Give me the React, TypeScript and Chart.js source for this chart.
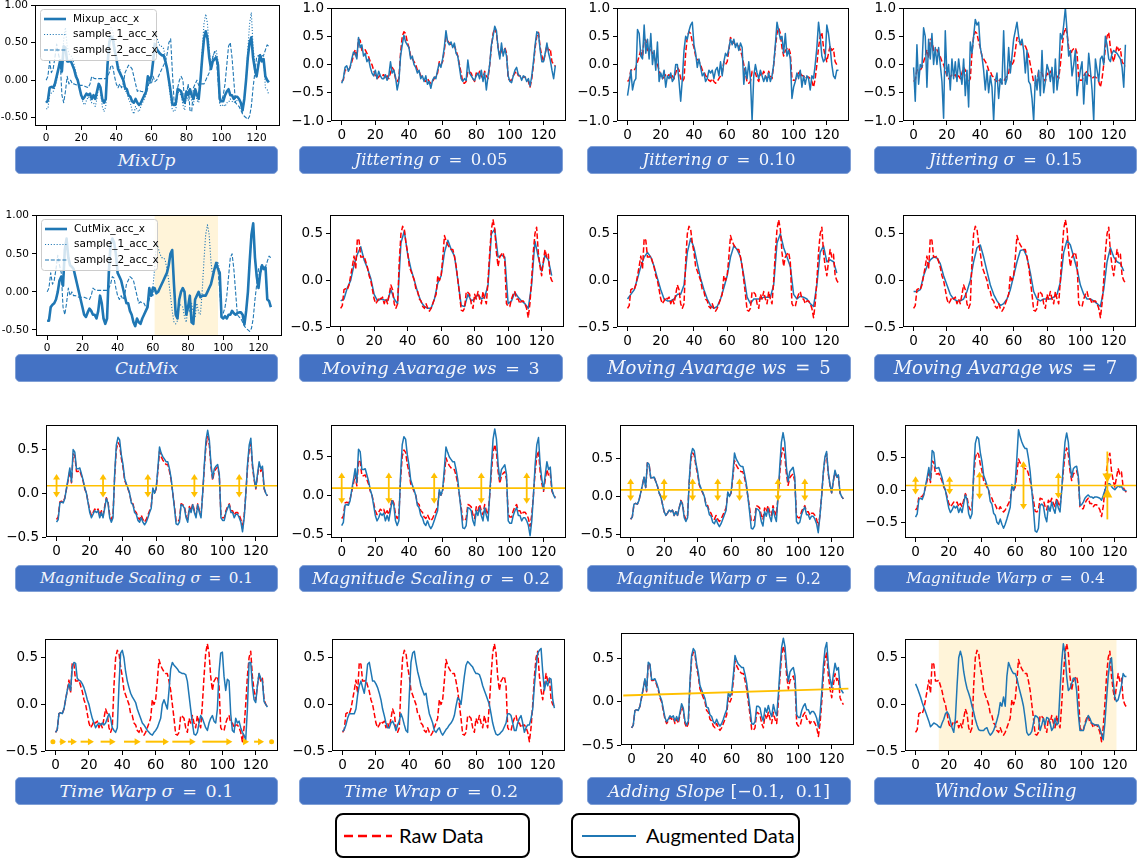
import React, { useEffect, useRef } from "react";
import { Chart, registerables } from "chart.js";
Chart.register(...registerables);

// ---------------- DATA ----------------
const RAW = [
  -0.30,-0.27,-0.10,-0.09,-0.10,-0.05,0.05,0.15,0.26,0.12,
  0.45,0.43,0.25,0.25,0.26,0.20,0.14,0.05,0.00,-0.10,
  -0.20,-0.25,-0.22,-0.18,-0.20,-0.18,-0.25,-0.20,-0.25,-0.15,
  -0.05,-0.10,-0.25,-0.30,-0.25,0.20,0.50,0.58,0.55,0.40,
  0.30,0.15,0.10,0.05,0.00,-0.10,-0.12,-0.20,-0.22,-0.28,
  -0.30,-0.25,-0.30,-0.33,-0.30,-0.25,-0.20,-0.15,0.05,0.00,
  0.05,0.25,0.48,0.42,0.38,0.35,0.33,0.33,0.25,0.15,
  0.00,-0.15,-0.32,-0.33,-0.30,-0.12,-0.13,-0.15,-0.25,-0.30,
  -0.15,-0.20,-0.12,-0.20,-0.25,-0.12,-0.20,-0.25,0.00,0.30,
  0.55,0.65,0.55,0.30,0.15,0.25,0.28,0.30,0.20,-0.25,
  -0.28,-0.28,-0.20,-0.15,-0.12,-0.20,-0.20,-0.25,-0.22,-0.22,
  -0.25,-0.30,-0.40,-0.25,0.00,0.30,0.50,0.57,0.30,0.15,
  0.05,0.20,0.33,0.25,0.28,0.05,0.00,-0.03];

const SAMPLE1 = [
  -0.38,-0.38,-0.20,-0.17,-0.15,-0.10,0.00,0.15,0.20,0.08,
  0.55,0.70,0.45,0.35,0.33,0.30,0.20,0.10,0.00,-0.10,
  -0.20,-0.30,-0.33,-0.27,-0.22,-0.25,-0.30,-0.30,-0.35,-0.25,
  -0.05,-0.15,-0.35,-0.42,-0.35,0.25,0.62,0.70,0.65,0.50,
  0.25,0.20,0.15,0.05,-0.05,-0.15,-0.15,-0.25,-0.30,-0.40,
  -0.45,-0.35,-0.40,-0.42,-0.35,-0.30,-0.25,-0.20,0.05,-0.05,
  0.05,0.30,0.65,0.58,0.50,0.45,0.45,0.42,0.30,0.15,
  -0.05,-0.25,-0.40,-0.42,-0.38,-0.15,-0.18,-0.20,-0.33,-0.40,
  -0.20,-0.27,-0.15,-0.27,-0.33,-0.15,-0.27,-0.30,0.00,0.40,
  0.75,0.88,0.75,0.40,0.20,0.32,0.37,0.40,0.25,-0.33,
  -0.35,-0.32,-0.35,-0.30,-0.30,-0.25,-0.28,-0.30,-0.28,-0.27,
  -0.27,-0.30,-0.43,-0.25,0.00,0.40,0.75,0.90,0.45,0.20,
  0.05,0.25,0.35,0.30,0.32,-0.10,-0.12,-0.20];

const SAMPLE2 = [
  0.00,0.05,0.25,0.10,0.15,0.30,0.48,0.35,0.25,-0.20,
  -0.30,-0.15,0.05,-0.05,0.00,-0.05,-0.05,-0.06,-0.07,-0.07,
  -0.07,-0.07,-0.08,-0.09,-0.10,-0.05,0.05,0.03,0.02,0.02,
  0.02,0.02,0.02,0.02,0.02,0.05,0.10,0.20,0.18,0.05,
  -0.05,-0.10,-0.05,-0.10,-0.05,0.10,0.15,0.20,0.18,0.15,
  0.05,-0.05,-0.15,-0.13,-0.15,-0.15,-0.20,-0.18,-0.10,0.00,
  -0.05,0.05,-0.02,0.00,0.05,0.10,0.15,0.20,0.25,0.35,
  0.50,0.55,0.10,-0.30,-0.35,-0.10,0.00,0.05,0.00,-0.30,
  -0.20,-0.05,-0.40,-0.42,-0.10,-0.05,0.00,-0.07,-0.05,-0.05,
  -0.05,0.00,0.05,0.10,0.20,0.30,0.38,0.30,0.00,-0.30,
  -0.28,-0.20,-0.05,0.20,0.45,0.50,0.30,0.00,-0.30,-0.33,
  -0.35,-0.40,-0.45,-0.48,-0.50,-0.52,-0.48,-0.35,-0.10,0.10,
  0.30,0.33,0.30,0.32,0.33,0.40,0.47,0.45];

const CUT_WINDOW = [61, 97];

const JIT05 = [
  -0.33,-0.25,-0.05,-0.02,-0.12,-0.05,0.10,0.22,0.20,0.10,
  0.48,0.30,0.35,0.15,0.20,0.05,0.10,-0.05,-0.15,-0.20,
  -0.10,-0.25,-0.12,-0.20,-0.25,-0.25,-0.18,-0.28,-0.20,0.05,
  -0.15,-0.10,-0.22,-0.45,-0.30,0.15,0.35,0.52,0.40,0.35,
  0.30,0.10,0.15,0.00,-0.05,-0.15,-0.10,-0.25,-0.20,-0.30,
  -0.20,-0.35,-0.30,-0.42,-0.28,-0.22,-0.25,-0.10,0.02,-0.05,
  0.10,0.30,0.60,0.40,0.35,0.40,0.30,0.38,0.20,0.15,
  -0.05,-0.25,-0.30,-0.25,-0.28,0.08,-0.15,-0.20,-0.25,-0.28,
  -0.20,-0.15,-0.25,-0.10,-0.30,-0.15,-0.45,-0.20,0.00,0.35,
  0.50,0.68,0.60,0.28,0.10,0.38,0.15,0.28,0.15,-0.20,
  -0.30,-0.32,-0.20,-0.10,-0.05,-0.18,-0.20,-0.28,-0.20,-0.22,
  -0.30,-0.25,-0.38,-0.20,0.05,0.35,0.58,0.55,0.25,0.05,
  0.05,0.20,0.38,0.20,0.08,-0.10,-0.25,-0.02];

const JIT10 = [
  -0.55,-0.35,-0.10,-0.45,-0.30,-0.25,0.62,0.55,0.15,0.10,
  0.70,0.20,0.45,0.10,0.55,0.00,0.25,-0.10,0.40,-0.30,
  -0.15,-0.25,-0.10,-0.40,-0.20,-0.25,-0.15,-0.30,-0.25,0.00,
  0.00,-0.30,-0.65,-0.25,0.25,0.50,0.45,0.60,0.70,0.75,
  0.35,0.20,-0.05,0.10,-0.05,-0.20,-0.15,-0.30,-0.25,-0.10,
  -0.15,-0.10,-0.25,-0.10,-0.05,-0.20,0.05,-0.20,0.05,0.20,
  0.15,0.28,0.45,0.35,0.45,0.30,0.38,0.25,0.38,0.30,
  -0.35,-0.05,-0.25,0.05,-0.25,-1.00,-0.20,0.00,-0.15,-0.25,
  -0.10,-0.20,-0.30,-0.20,-0.30,-0.15,-0.30,-0.20,0.00,0.35,
  0.75,0.60,0.45,0.50,0.20,0.55,0.15,0.25,0.10,-0.60,
  -0.40,-0.30,-0.15,-0.25,-0.10,-0.40,-0.20,-0.35,-0.20,-0.25,
  -0.45,-0.20,-0.25,0.00,0.30,0.75,0.50,0.15,0.05,0.10,
  0.70,0.55,0.30,0.00,-0.20,-0.25,-0.10,-0.10];

const JIT15 = [
  -0.05,-0.65,0.35,-0.35,0.00,-0.05,0.65,0.50,-0.40,0.45,
  0.10,0.55,0.00,0.30,0.00,0.30,0.00,-0.30,-0.95,0.60,
  -0.20,0.00,-0.45,0.10,-0.25,0.05,-0.30,0.10,-0.15,-0.35,
  0.10,-0.55,-0.10,-0.75,0.40,0.20,0.50,0.80,0.70,0.75,
  0.30,0.15,-0.10,-0.45,-0.10,-0.50,-0.20,-0.40,-1.00,-0.30,
  -0.15,-0.60,-0.25,-0.35,0.60,-0.35,-0.25,0.30,-0.15,0.15,
  0.45,0.60,0.75,0.50,0.35,0.45,0.25,-0.15,0.25,-0.30,
  -0.35,-0.60,-1.00,-0.20,-0.45,-0.10,-0.55,0.25,-0.50,-0.30,
  0.00,-0.10,-0.30,-0.05,-0.50,0.10,-0.45,-0.20,0.55,0.45,
  0.70,1.00,0.60,0.15,0.25,-0.20,0.00,0.25,-0.55,-0.30,
  -0.10,0.05,-0.70,-0.15,-0.35,0.20,-0.10,-0.45,-1.00,0.10,
  -0.10,-0.30,0.10,0.15,0.00,0.50,0.35,0.10,0.05,0.20,
  0.25,0.22,0.20,0.15,0.10,-0.05,-0.40,0.35];

// moving averages sampled every 2 steps
const MA3 = [
  -0.22,-0.20,-0.08,0.00,0.17,0.28,0.36,0.22,0.13,0.02,
  -0.15,-0.22,-0.20,-0.21,-0.22,-0.10,-0.20,-0.25,0.40,0.53,
  0.28,0.12,0.00,-0.13,-0.23,-0.28,-0.30,-0.30,-0.20,-0.03,
  0.05,0.30,0.43,0.33,0.26,0.00,-0.27,-0.28,-0.15,-0.22,
  -0.20,-0.15,-0.20,-0.18,-0.05,0.50,0.55,0.25,0.27,0.25,
  -0.25,-0.22,-0.13,-0.18,-0.22,-0.25,-0.30,-0.05,0.42,0.25,
  0.10,0.27,0.22,0.05];
const MA5 = [
  -0.20,-0.15,-0.10,0.02,0.15,0.25,0.30,0.25,0.15,0.02,
  -0.10,-0.20,-0.22,-0.22,-0.20,-0.15,-0.15,-0.05,0.30,0.45,
  0.35,0.18,0.02,-0.10,-0.20,-0.27,-0.30,-0.28,-0.20,-0.08,
  0.05,0.25,0.37,0.33,0.25,0.05,-0.18,-0.25,-0.20,-0.20,
  -0.20,-0.18,-0.18,-0.18,-0.05,0.40,0.50,0.35,0.25,0.15,
  -0.15,-0.20,-0.17,-0.18,-0.20,-0.25,-0.28,-0.05,0.30,0.37,
  0.20,0.22,0.20,0.08];
const MA7 = [
  -0.12,-0.12,-0.10,0.05,0.15,0.22,0.25,0.24,0.18,0.05,
  -0.05,-0.15,-0.20,-0.22,-0.22,-0.20,-0.12,0.00,0.20,0.35,
  0.38,0.25,0.10,-0.05,-0.15,-0.22,-0.27,-0.25,-0.20,-0.10,
  0.05,0.20,0.32,0.33,0.25,0.08,-0.12,-0.20,-0.22,-0.20,
  -0.20,-0.20,-0.18,-0.15,-0.02,0.30,0.43,0.38,0.25,0.12,
  -0.05,-0.15,-0.20,-0.20,-0.22,-0.25,-0.28,-0.10,0.20,0.35,
  0.25,0.20,0.18,0.10];

const MS01 = [
  -0.33,-0.30,-0.11,-0.10,-0.11,-0.06,0.06,0.17,0.29,0.13,
  0.50,0.47,0.28,0.28,0.29,0.22,0.15,0.06,0.00,-0.11,
  -0.22,-0.28,-0.24,-0.20,-0.22,-0.20,-0.28,-0.22,-0.28,-0.17,
  -0.06,-0.11,-0.28,-0.33,-0.28,0.22,0.55,0.64,0.61,0.44,
  0.33,0.17,0.11,0.06,0.00,-0.11,-0.13,-0.22,-0.24,-0.31,
  -0.33,-0.28,-0.33,-0.36,-0.33,-0.28,-0.22,-0.17,0.06,0.00,
  0.06,0.28,0.53,0.46,0.42,0.39,0.36,0.36,0.28,0.17,
  0.00,-0.17,-0.35,-0.36,-0.33,-0.13,-0.14,-0.17,-0.28,-0.33,
  -0.17,-0.22,-0.13,-0.22,-0.28,-0.13,-0.22,-0.28,0.00,0.33,
  0.61,0.72,0.61,0.33,0.17,0.28,0.31,0.33,0.22,-0.28,
  -0.31,-0.31,-0.22,-0.17,-0.13,-0.22,-0.22,-0.28,-0.24,-0.24,
  -0.28,-0.33,-0.44,-0.28,0.00,0.33,0.55,0.63,0.33,0.17,
  0.06,0.22,0.36,0.28,0.31,0.06,0.00,-0.03];

const MS02 = [
  -0.39,-0.35,-0.13,-0.12,-0.13,-0.07,0.07,0.20,0.34,0.16,
  0.59,0.56,0.33,0.33,0.34,0.26,0.18,0.07,0.00,-0.13,
  -0.26,-0.33,-0.29,-0.23,-0.26,-0.23,-0.33,-0.26,-0.33,-0.20,
  -0.07,-0.13,-0.33,-0.39,-0.33,0.26,0.65,0.75,0.72,0.52,
  0.39,0.20,0.13,0.07,0.00,-0.13,-0.16,-0.26,-0.29,-0.36,
  -0.39,-0.33,-0.39,-0.43,-0.39,-0.33,-0.26,-0.20,0.07,0.00,
  0.07,0.33,0.62,0.55,0.49,0.46,0.43,0.43,0.33,0.20,
  0.00,-0.20,-0.42,-0.43,-0.39,-0.16,-0.17,-0.20,-0.33,-0.39,
  -0.20,-0.26,-0.16,-0.26,-0.33,-0.16,-0.26,-0.33,0.00,0.39,
  0.72,0.85,0.72,0.39,0.20,0.33,0.36,0.39,0.26,-0.33,
  -0.36,-0.36,-0.26,-0.20,-0.16,-0.26,-0.26,-0.33,-0.29,-0.29,
  -0.33,-0.39,-0.52,-0.33,0.00,0.39,0.65,0.74,0.39,0.20,
  0.07,0.26,0.43,0.33,0.36,0.07,0.00,-0.04];

const MW02 = [
  -0.30,-0.27,-0.10,-0.09,-0.10,-0.05,0.05,0.15,0.26,0.12,
  0.45,0.43,0.25,0.25,0.26,0.20,0.14,0.05,0.00,-0.10,
  -0.20,-0.25,-0.22,-0.18,-0.20,-0.18,-0.25,-0.20,-0.25,-0.15,
  -0.06,-0.11,-0.28,-0.33,-0.28,0.22,0.55,0.64,0.61,0.44,
  0.33,0.17,0.11,0.06,0.00,-0.12,-0.14,-0.24,-0.26,-0.34,
  -0.36,-0.30,-0.36,-0.40,-0.36,-0.30,-0.24,-0.18,0.06,0.00,
  0.06,0.30,0.58,0.50,0.46,0.42,0.40,0.40,0.30,0.18,
  0.00,-0.20,-0.42,-0.43,-0.39,-0.16,-0.17,-0.20,-0.33,-0.39,
  -0.20,-0.26,-0.16,-0.26,-0.33,-0.16,-0.26,-0.33,0.00,0.39,
  0.72,0.85,0.72,0.39,0.20,0.33,0.36,0.39,0.26,-0.33,
  -0.36,-0.34,-0.24,-0.18,-0.14,-0.24,-0.24,-0.30,-0.26,-0.26,
  -0.30,-0.36,-0.48,-0.26,0.00,0.32,0.53,0.60,0.32,0.16,
  0.05,0.21,0.35,0.26,0.29,0.05,0.00,-0.03];

const MW04 = [
  -0.41,-0.36,-0.14,-0.12,-0.14,-0.07,0.07,0.20,0.35,0.16,
  0.61,0.58,0.34,0.34,0.35,0.27,0.19,0.07,0.00,-0.14,
  -0.27,-0.34,-0.30,-0.24,-0.27,-0.24,-0.34,-0.27,-0.34,-0.20,
  -0.07,-0.14,-0.36,-0.43,-0.36,0.29,0.72,0.82,0.79,0.58,
  0.44,0.23,0.16,0.08,0.00,-0.17,-0.21,-0.35,-0.38,-0.49,
  -0.52,-0.44,-0.52,-0.58,-0.52,-0.44,-0.35,-0.26,0.09,0.00,
  0.10,0.49,0.93,0.82,0.74,0.68,0.64,0.64,0.49,0.29,
  0.00,-0.29,-0.62,-0.64,-0.58,-0.23,-0.21,-0.24,-0.40,-0.48,
  -0.24,-0.32,-0.18,-0.28,-0.35,-0.16,-0.27,-0.33,0.00,0.40,
  0.74,0.88,0.74,0.40,0.20,0.33,0.36,0.37,0.22,-0.23,
  -0.22,-0.18,-0.12,-0.09,-0.07,-0.10,-0.10,-0.12,-0.10,-0.10,
  -0.11,-0.12,-0.15,-0.08,0.00,0.07,0.10,0.10,0.06,0.03,
  0.01,0.04,0.07,0.05,0.06,0.01,0.00,-0.01];

const TW01 = [
  -0.30,-0.27,-0.10,-0.09,-0.10,-0.05,0.05,0.15,0.22,0.15,
  0.40,0.45,0.44,0.28,0.26,0.25,0.22,0.18,0.12,0.05,
  0.00,-0.08,-0.15,-0.20,-0.25,-0.22,-0.20,-0.22,-0.20,-0.22,
  -0.20,-0.15,-0.10,-0.15,-0.25,-0.28,-0.30,-0.25,0.20,0.55,
  0.58,0.50,0.35,0.25,0.18,0.12,0.08,0.05,0.02,-0.05,
  -0.10,-0.15,-0.20,-0.22,-0.25,-0.28,-0.30,-0.32,-0.33,-0.30,
  -0.28,-0.25,-0.20,-0.15,0.00,0.05,0.00,-0.05,0.15,0.38,
  0.45,0.42,0.40,0.38,0.35,0.34,0.33,0.33,0.32,0.25,
  0.10,-0.05,-0.20,-0.32,-0.33,-0.30,-0.20,-0.12,-0.15,-0.20,
  -0.25,-0.28,-0.20,-0.15,-0.12,-0.18,-0.20,-0.05,0.35,0.55,
  0.56,0.30,0.15,0.27,0.25,-0.10,-0.28,-0.30,-0.15,-0.20,
  -0.18,-0.25,-0.30,-0.33,-0.38,-0.05,0.45,0.45,0.20,0.05,
  0.02,0.20,0.33,0.28,0.25,0.03,0.00,-0.03];

const TW02 = [
  -0.29,-0.27,-0.22,-0.15,-0.10,-0.10,-0.10,-0.10,-0.05,0.10,
  0.20,0.25,0.18,0.12,0.25,0.43,0.45,0.35,0.25,0.25,
  0.22,0.18,0.12,0.05,-0.05,-0.12,-0.20,-0.25,-0.25,-0.20,
  -0.18,-0.22,-0.28,-0.22,-0.18,-0.10,-0.15,-0.22,-0.28,-0.30,
  0.10,0.45,0.55,0.57,0.45,0.35,0.28,0.20,0.15,0.10,
  0.12,0.00,-0.10,-0.15,-0.20,-0.28,-0.30,-0.27,-0.25,-0.30,
  -0.33,-0.30,-0.27,-0.25,-0.22,-0.20,-0.17,-0.12,-0.02,0.07,
  0.05,0.00,0.15,0.30,0.42,0.46,0.44,0.42,0.40,0.36,
  0.33,0.33,0.32,0.27,0.20,0.15,0.10,0.05,0.00,-0.10,
  -0.20,-0.27,-0.32,-0.33,-0.32,-0.30,-0.28,-0.24,-0.20,-0.10,
  -0.10,-0.12,-0.20,-0.28,-0.28,-0.20,-0.15,-0.12,-0.20,-0.30,
  -0.25,-0.22,-0.22,-0.15,-0.05,0.20,0.40,0.55,0.58,0.60,
  0.35,0.15,0.25,0.20,0.28,0.27,0.05,-0.04];

const SLOPE_AUG = [
  -0.30,-0.27,-0.10,-0.09,-0.10,-0.05,0.06,0.16,0.27,0.13,
  0.46,0.44,0.26,0.26,0.27,0.22,0.16,0.07,0.02,-0.08,
  -0.18,-0.23,-0.20,-0.16,-0.18,-0.16,-0.22,-0.17,-0.22,-0.12,
  -0.02,-0.07,-0.22,-0.27,-0.22,0.24,0.54,0.62,0.59,0.44,
  0.34,0.19,0.14,0.09,0.04,-0.06,-0.07,-0.15,-0.17,-0.23,
  -0.25,-0.20,-0.25,-0.28,-0.25,-0.20,-0.14,-0.09,0.11,0.06,
  0.11,0.31,0.54,0.48,0.44,0.42,0.40,0.40,0.32,0.22,
  0.07,-0.08,-0.25,-0.26,-0.23,-0.05,-0.05,-0.07,-0.17,-0.22,
  -0.07,-0.12,-0.04,-0.12,-0.17,-0.03,-0.11,-0.16,0.09,0.39,
  0.64,0.74,0.64,0.39,0.24,0.35,0.38,0.40,0.30,-0.15,
  -0.18,-0.18,-0.10,-0.05,-0.02,-0.09,-0.09,-0.14,-0.11,-0.11,
  -0.14,-0.19,-0.29,-0.14,0.11,0.42,0.62,0.69,0.42,0.27,
  0.17,0.32,0.45,0.37,0.40,0.17,0.13,0.10];
const SLOPE_LINE_X = [-5, 130];
const SLOPE_LINE_Y = [0.075, 0.155];

const WINDOW_AUG = [
  0.22,0.18,0.13,0.08,0.02,-0.03,-0.08,-0.13,-0.18,-0.24,
  -0.22,-0.20,-0.21,-0.22,-0.24,-0.25,-0.20,-0.16,-0.10,-0.08,
  -0.11,-0.18,-0.25,-0.30,-0.15,0.20,0.50,0.57,0.50,0.35,
  0.25,0.17,0.12,0.06,-0.02,-0.08,-0.16,-0.22,-0.27,-0.28,
  -0.28,-0.28,-0.26,-0.25,-0.30,-0.33,-0.31,-0.28,-0.23,-0.17,
  -0.10,0.02,-0.02,0.08,-0.02,0.30,0.45,0.40,0.36,0.33,
  0.33,0.28,0.20,0.13,0.06,-0.02,-0.15,-0.30,-0.33,-0.32,
  -0.29,-0.20,-0.12,-0.13,-0.15,-0.28,-0.22,-0.15,-0.22,-0.14,
  -0.15,-0.20,-0.28,-0.25,-0.15,-0.22,-0.20,0.15,0.45,0.65,
  0.55,0.30,0.15,0.17,0.22,0.28,0.28,0.15,-0.10,-0.28,
  -0.28,-0.28,-0.22,-0.17,-0.12,-0.15,-0.20,-0.21,-0.22,-0.22,
  -0.22,-0.26,-0.32,-0.38,-0.20,0.05,0.30,0.45,0.50,0.25,
  0.08,0.03,0.05,0.12,0.20,0.33,0.30,0.30];
const WIN_WINDOW = [14, 121];

const X_TICKS = [0, 20, 40, 60, 80, 100, 120];
const Y_TICKS_MIX = [-0.5, 0, 0.5, 1];
const Y_TICKS_JIT = [-1, -0.5, 0, 0.5, 1];
const Y_TICKS_STD = [-0.5, 0, 0.5];

const MS01_ARROWS_X = [0, 28, 55, 83, 110];
const MS02_ARROWS_X = [0, 28, 55, 83, 110];
const MW02_ARROWS_X = [0, 20, 37, 52, 65, 88, 104];
const MW04_ARROWS_X = [0, 20.5, 38.5, 65, 86, 115.5];
const MW04_ARROWS_H = [0.14, 0.14, 0.21, 0.37, 0.2, 0.52];
const TW_ARROWS = [[2.4, 6.4], [7.4, 12.8], [15, 23], [27, 36], [41, 51], [54, 68], [70, 84], [88, 106], [113, 116], [119, 125]];
const TW_DOTS = [-1.6, 129.5];
const TW_ARROW_Y = -0.4;

// ---------------- STYLE ----------------
const BLUE = "#1f77b4";
const RED = "#ff0000";
const ORANGE = "#ffc000";
const SHADE = "#fff4d9";
const X_MIN = -6.35, X_MAX = 133.35;

type S = { d: number[]; step?: number; xs?: number[]; c: string; w: number; dash?: number[] };
type Arrow = { x: number; h: number; inward?: boolean };
type P = {
  box: [number, number, number, number];
  y: [number, number];
  yt: number[];
  small?: boolean;
  series: S[];
  shade?: number[];
  hline?: number;
  arrows?: Arrow[];
  tw?: boolean;
  legend?: string[];
};

const blue = (d: number[], step = 1): S => ({ d, step, c: BLUE, w: 1.5 });
const red: S = { d: RAW, c: RED, w: 1.5, dash: [5.5, 2.4] };
const CUTMIX = [...SAMPLE1.slice(0, CUT_WINDOW[0]), ...SAMPLE2.slice(CUT_WINDOW[0], CUT_WINDOW[1] + 1), ...SAMPLE1.slice(CUT_WINDOW[1] + 1)];
const mixSeries = (main: number[]): S[] => [
  { d: main, c: BLUE, w: 2.6 },
  { d: SAMPLE1, c: BLUE, w: 1.1, dash: [1.1, 1.8] },
  { d: SAMPLE2, c: BLUE, w: 1.1, dash: [4, 1.8] },
];

const PANELS: P[] = [
  { box: [35, 5, 280, 126], y: [-0.61, 1.0], yt: Y_TICKS_MIX, small: true, series: mixSeries(RAW), legend: ["Mixup_acc_x", "sample_1_acc_x", "sample_2_acc_x"] },
  { box: [331, 7, 566, 121], y: [-1, 1], yt: Y_TICKS_JIT, series: [blue(JIT05), red] },
  { box: [617, 7, 849, 121], y: [-1, 1], yt: Y_TICKS_JIT, series: [blue(JIT10), red] },
  { box: [903, 7, 1136, 121], y: [-1, 1], yt: Y_TICKS_JIT, series: [blue(JIT15), red] },

  { box: [36, 215, 282, 336], y: [-0.58, 1.01], yt: Y_TICKS_MIX, small: true, series: mixSeries(CUTMIX), shade: CUT_WINDOW, legend: ["CutMix_acc_x", "sample_1_acc_x", "sample_2_acc_x"] },
  { box: [330, 214, 564, 327], y: [-0.5, 0.7], yt: Y_TICKS_STD, series: [red, blue(MA3, 2)] },
  { box: [617, 214, 849, 327], y: [-0.5, 0.7], yt: Y_TICKS_STD, series: [red, blue(MA5, 2)] },
  { box: [903, 214, 1136, 327], y: [-0.5, 0.7], yt: Y_TICKS_STD, series: [red, blue(MA7, 2)] },

  { box: [46, 424, 278, 537], y: [-0.5, 0.78], yt: Y_TICKS_STD, series: [blue(MS01), red], hline: 0.087, arrows: MS01_ARROWS_X.map((x) => ({ x, h: 0.135 })) },
  { box: [331, 424, 566, 538], y: [-0.55, 0.9], yt: Y_TICKS_STD, series: [blue(MS02), red], hline: 0.09, arrows: MS02_ARROWS_X.map((x) => ({ x, h: 0.2 })) },
  { box: [620, 424, 854, 538], y: [-0.55, 0.95], yt: Y_TICKS_STD, series: [blue(MW02), red], hline: 0.09, arrows: MW02_ARROWS_X.map((x) => ({ x, h: 0.15 })) },
  { box: [905, 424, 1137, 538], y: [-0.73, 1.0], yt: Y_TICKS_STD, series: [blue(MW04), red], hline: 0.075, arrows: MW04_ARROWS_X.map((x, i) => ({ x, h: MW04_ARROWS_H[i], inward: i === MW04_ARROWS_X.length - 1 })) },

  { box: [45, 638, 278, 751], y: [-0.5, 0.7], yt: Y_TICKS_STD, series: [blue(TW01), red], tw: true },
  { box: [332, 638, 565, 751], y: [-0.5, 0.7], yt: Y_TICKS_STD, series: [blue(TW02), red] },
  { box: [621, 632, 854, 745], y: [-0.5, 0.8], yt: Y_TICKS_STD, series: [{ d: SLOPE_LINE_Y, xs: SLOPE_LINE_X, c: ORANGE, w: 1.8 }, blue(SLOPE_AUG), red] },
  { box: [905, 638, 1137, 751], y: [-0.5, 0.7], yt: Y_TICKS_STD, series: [blue(WINDOW_AUG), red], shade: WIN_WINDOW },
];

const LABEL_ROWS = [[146, 174], [354, 382], [565, 592], [777, 805]];
const LABEL_COLS = [[15, 278], [299, 563], [587, 851], [874, 1137]];
const SP = "\u2002";
const LABELS: [string, string][] = [
  ["MixUp", ""], ["Jittering σ", `${SP}=${SP}0.05`], ["Jittering σ", `${SP}=${SP}0.10`], ["Jittering σ", `${SP}=${SP}0.15`],
  ["CutMix", ""], ["Moving Avarage ws", `${SP}=${SP}3`], ["Moving Avarage ws", `${SP}=${SP}5`], ["Moving Avarage ws", `${SP}=${SP}7`],
  ["Magnitude Scaling σ", `${SP}=${SP}0.1`], ["Magnitude Scaling σ", `${SP}=${SP}0.2`], ["Magnitude Warp σ", `${SP}=${SP}0.2`], ["Magnitude Warp σ", `${SP}=${SP}0.4`],
  ["Time Warp σ", `${SP}=${SP}0.1`], ["Time Wrap σ", `${SP}=${SP}0.2`], ["Adding Slope", " [−0.1,  0.1]"], ["Window Sciling", ""],
];
const LABEL_SIZES = [
  17, 16.5, 16.5, 16.5,
  17, 17.5, 18, 18,
  15.2, 17, 15.8, 15.4,
  17.5, 17.5, 17.3, 18,
];

const PAD_L = 54, PAD_T = 10, PAD_R = 10, PAD_B = 28;

function tri(ctx: CanvasRenderingContext2D, x: number, tipY: number, dir: number, hw: number, hl: number) {
  ctx.beginPath();
  ctx.moveTo(x, tipY);
  ctx.lineTo(x - hw, tipY - dir * hl);
  ctx.lineTo(x + hw, tipY - dir * hl);
  ctx.closePath();
  ctx.fill();
}

function decor(p: P) {
  return {
    id: "decor",
    beforeDatasetsDraw(chart: any) {
      const { ctx, chartArea: a, scales } = chart;
      if (p.shade) {
        const x0 = scales.x.getPixelForValue(p.shade[0]);
        const x1 = scales.x.getPixelForValue(p.shade[1]);
        ctx.save();
        ctx.fillStyle = SHADE;
        ctx.fillRect(x0, a.top, x1 - x0, a.bottom - a.top);
        ctx.restore();
      }
    },
    afterDatasetsDraw(chart: any) {
      const { ctx, chartArea: a, scales } = chart;
      const sx = scales.x, sy = scales.y;
      ctx.save();
      ctx.strokeStyle = ORANGE;
      ctx.fillStyle = ORANGE;
      if (p.hline !== undefined) {
        const py = sy.getPixelForValue(p.hline);
        ctx.lineWidth = 1.6;
        ctx.beginPath();
        ctx.moveTo(a.left, py);
        ctx.lineTo(a.right, py);
        ctx.stroke();
        (p.arrows || []).forEach((ar) => {
          const px = sx.getPixelForValue(ar.x);
          const yt = sy.getPixelForValue(p.hline! + ar.h);
          const yb = sy.getPixelForValue(p.hline! - ar.h);
          ctx.lineWidth = 1.8;
          if (!ar.inward) {
            ctx.beginPath();
            ctx.moveTo(px, yt + 4);
            ctx.lineTo(px, yb - 4);
            ctx.stroke();
            tri(ctx, px, yt, -1, 3.5, 5.5);
            tri(ctx, px, yb, 1, 3.5, 5.5);
          } else {
            ctx.beginPath();
            ctx.moveTo(px, yt);
            ctx.lineTo(px, yb);
            ctx.stroke();
            tri(ctx, px, py - 3, 1, 5, 9);
            tri(ctx, px, py + 3, -1, 5, 9);
          }
        });
      }
      if (p.tw) {
        const py = sy.getPixelForValue(TW_ARROW_Y);
        ctx.lineWidth = 2;
        TW_ARROWS.forEach(([x0, x1]) => {
          const p0 = sx.getPixelForValue(x0), p1 = sx.getPixelForValue(x1);
          ctx.beginPath();
          ctx.moveTo(p0, py);
          ctx.lineTo(p1 - 5, py);
          ctx.stroke();
          ctx.beginPath();
          ctx.moveTo(p1, py);
          ctx.lineTo(p1 - 6, py - 3.5);
          ctx.lineTo(p1 - 6, py + 3.5);
          ctx.closePath();
          ctx.fill();
        });
        TW_DOTS.forEach((x) => {
          ctx.beginPath();
          ctx.arc(sx.getPixelForValue(x), py, 2.5, 0, Math.PI * 2);
          ctx.fill();
        });
      }
      ctx.restore();
    },
    afterDraw(chart: any) {
      const { ctx, chartArea: a } = chart;
      ctx.save();
      ctx.strokeStyle = "#000";
      ctx.lineWidth = 1;
      ctx.strokeRect(Math.round(a.left) + 0.5, Math.round(a.top) + 0.5, Math.round(a.right - a.left) - 1, Math.round(a.bottom - a.top) - 1);
      if (p.legend) {
        const lx = a.left + 5, ly = a.top + 4, w = 116, h = 51;
        ctx.fillStyle = "rgba(255,255,255,0.8)";
        ctx.strokeStyle = "#cccccc";
        ctx.lineWidth = 1;
        ctx.beginPath();
        (ctx as any).roundRect(lx + 0.5, ly + 0.5, w, h, 3);
        ctx.fill();
        ctx.stroke();
        const styles = [{ w: 2.6, dash: [] as number[] }, { w: 1.1, dash: [1.1, 1.8] }, { w: 1.1, dash: [4, 1.8] }];
        p.legend.forEach((t, i) => {
          const yy = ly + 10 + i * 15.5;
          ctx.strokeStyle = BLUE;
          ctx.lineWidth = styles[i].w;
          ctx.setLineDash(styles[i].dash);
          ctx.beginPath();
          ctx.moveTo(lx + 4, yy);
          ctx.lineTo(lx + 26, yy);
          ctx.stroke();
          ctx.setLineDash([]);
          ctx.fillStyle = "#000";
          ctx.font = '10.5px "DejaVu Sans"';
          ctx.textBaseline = "middle";
          ctx.fillText(t, lx + 33, yy);
        });
      }
      ctx.restore();
    },
  };
}

function PanelChart({ p }: { p: P }) {
  const ref = useRef<HTMLCanvasElement>(null);
  const [L, T, R, B] = p.box;
  const W = R - L + PAD_L + PAD_R;
  const H = B - T + PAD_T + PAD_B;
  useEffect(() => {
    const fs = p.small ? 10.5 : 13.5;
    const font = { family: "DejaVu Sans", size: fs };
    const fmt = (v: number) =>
      p.small ? v.toFixed(2) : (v < 0 ? "\u2212" : "") + Math.abs(v).toFixed(1);
    const datasets = p.series.map((s, i) => ({
      data: s.d.map((v, j) => ({ x: s.xs ? s.xs[j] : j * (s.step || 1), y: v })),
      borderColor: s.c,
      borderWidth: s.w,
      borderDash: s.dash || [],
      pointRadius: 0,
      tension: 0,
      fill: false,
      order: i,
      borderJoinStyle: "round" as const,
    }));
    const grid = { display: true, drawOnChartArea: false, drawTicks: true, tickLength: 4, tickColor: "#000", tickWidth: 1 };
    const chart = new Chart(ref.current!, {
      type: "line",
      data: { datasets },
      options: {
        responsive: false,
        animation: false,
        events: [],
        layout: { padding: { left: 0, top: PAD_T, right: PAD_R, bottom: 0 } },
        plugins: { legend: { display: false }, tooltip: { enabled: false } },
        scales: {
          x: {
            type: "linear",
            min: X_MIN,
            max: X_MAX,
            grid,
            border: { display: false },
            afterBuildTicks: (s: any) => { s.ticks = X_TICKS.map((v) => ({ value: v })); },
            afterFit: (s: any) => { s.height = PAD_B; },
            ticks: { font, color: "#000", padding: 2, maxRotation: 0, autoSkip: false, callback: (v: any) => String(v) },
          },
          y: {
            type: "linear",
            min: p.y[0],
            max: p.y[1],
            grid,
            border: { display: false },
            afterBuildTicks: (s: any) => { s.ticks = p.yt.map((v) => ({ value: v })); },
            afterFit: (s: any) => { s.width = PAD_L; },
            ticks: { font, color: "#000", padding: 3, autoSkip: false, callback: (v: any) => fmt(Number(v)) },
          },
        },
      } as any,
      plugins: [decor(p)],
    });
    return () => chart.destroy();
  }, []);
  return (
    <canvas
      ref={ref}
      width={W}
      height={H}
      style={{ position: "absolute", left: L - PAD_L, top: T - PAD_T, width: W, height: H }}
    />
  );
}

function LabelBox({ i }: { i: number }) {
  const [y0, y1] = LABEL_ROWS[Math.floor(i / 4)];
  const [x0, x1] = LABEL_COLS[i % 4];
  const [it, up] = LABELS[i];
  return (
    <div
      style={{
        position: "absolute",
        left: x0,
        top: y0,
        width: x1 - x0,
        height: y1 - y0,
        background: "#4472c4",
        border: "1px solid #7f9fd6",
        borderRadius: 5,
        boxSizing: "border-box",
        color: "#f4f6fb",
        fontFamily: '"DejaVu Serif", serif',
        fontSize: LABEL_SIZES[i],
        lineHeight: `${y1 - y0 - 2}px`,
        textAlign: "center",
        whiteSpace: "pre",
      }}
    >
      <span style={{ fontStyle: "italic" }}>{it}</span>
      <span>{up}</span>
    </div>
  );
}

export default function App() {
  return (
    <div style={{ position: "absolute", left: 0, top: 0, width: 1138, height: 863, background: "#fff", overflow: "hidden" }}>
      {PANELS.map((p, i) => (
        <PanelChart key={i} p={p} />
      ))}
      {LABELS.map((_, i) => (
        <LabelBox key={i} i={i} />
      ))}
      <div style={{ position: "absolute", left: 335, top: 813, width: 195, height: 45, border: "2px solid #000", borderRadius: 8, boxSizing: "border-box" }}>
        <svg width={48} height={8} style={{ position: "absolute", left: 7, top: 17 }}>
          <line x1={0} y1={4} x2={48} y2={4} stroke={RED} strokeWidth={2.5} strokeDasharray="9,5" />
        </svg>
        <span style={{ position: "absolute", left: 62, top: 8, fontFamily: "Lato, sans-serif", fontSize: 20, color: "#000" }}>Raw Data</span>
      </div>
      <div style={{ position: "absolute", left: 571, top: 813, width: 229, height: 45, border: "2px solid #000", borderRadius: 8, boxSizing: "border-box" }}>
        <svg width={54} height={8} style={{ position: "absolute", left: 9, top: 17 }}>
          <line x1={0} y1={4} x2={54} y2={4} stroke={BLUE} strokeWidth={2} />
        </svg>
        <span style={{ position: "absolute", left: 73, top: 8, fontFamily: "Lato, sans-serif", fontSize: 20, color: "#000" }}>Augmented Data</span>
      </div>
    </div>
  );
}
